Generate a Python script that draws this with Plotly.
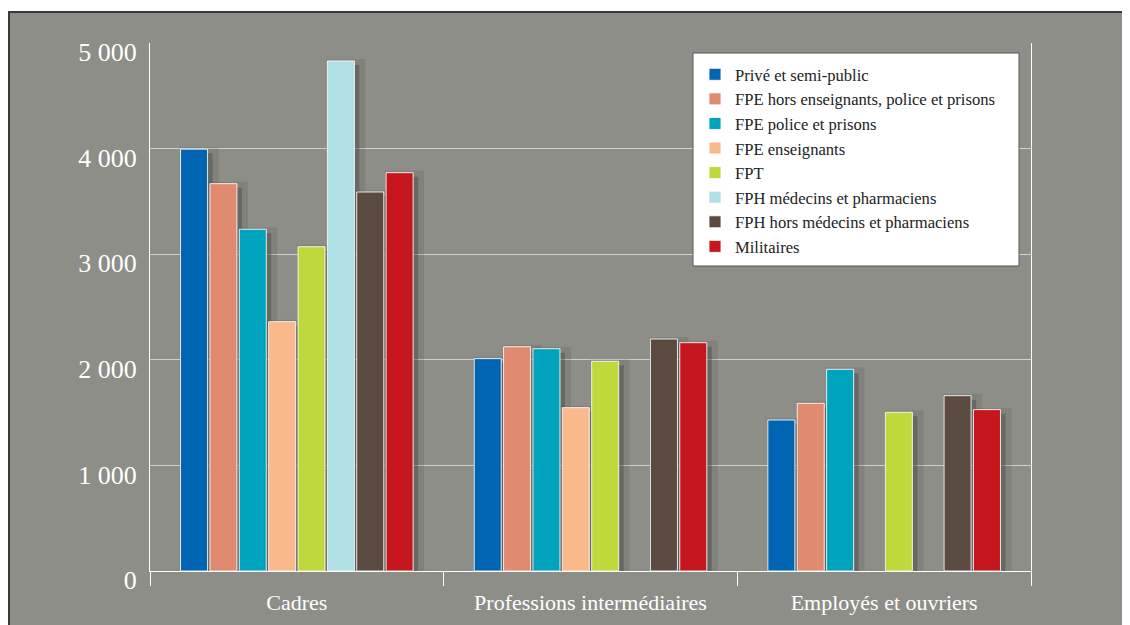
import plotly.graph_objects as go

categories = ["Cadres", "Professions intermédiaires", "Employés et ouvriers"]
series_names = [
    "Privé et semi-public",
    "FPE hors enseignants, police et prisons",
    "FPE police et prisons",
    "FPE enseignants",
    "FPT",
    "FPH médecins et pharmaciens",
    "FPH hors médecins et pharmaciens",
    "Militaires",
]
prive = [3995, 2011, 1430]
fpe_hors = [3668, 2124, 1588]
fpe_police = [3236, 2105, 1910]
fpe_ens = [2361, 1547, None]
fpt = [3071, 1986, 1503]
fph_med = [4830, None, None]
fph_hors = [3589, 2197, 1660]
militaires = [3772, 2162, 1528]
colors = ["#0066b3", "#e08a70", "#00a3bd", "#f9b98a", "#bfd83b", "#b0dfe5", "#5a4a40", "#c4161c"]
tick_vals = [0, 1000, 2000, 3000, 4000, 5000]
tick_text = ["0", "1 000", "2 000", "3 000", "4 000", "5 000"]

values = [prive, fpe_hors, fpe_police, fpe_ens, fpt, fph_med, fph_hors, militaires]

W, H = 1130, 625
OFF = 8  # page body margin
L, T = 150 - OFF, 43 - OFF
R = W - (1031 - OFF)
B = H - (571 - OFF)
pw, ph = W - L - R, H - T - B
YMAX = 5000
cat_px = pw / len(categories)

def px_x(p):
    return (p - OFF - L) / pw

def px_y(p):
    return (H - B - (p - OFF)) / ph

fig = go.Figure()
# soft drop shadows (base axes, shifted right/down, drawn beneath the bars)
for name, vals in zip(series_names, values):
    fig.add_trace(go.Bar(
        name=name, x=categories, y=vals, showlegend=False, hoverinfo="skip",
        xaxis="x", yaxis="y", cliponaxis=False,
        marker=dict(color="rgba(60,60,55,0.38)", line=dict(color="rgba(60,60,55,0.14)", width=12)),
    ))
# real bars (overlay axes)
for name, vals, col in zip(series_names, values, colors):
    fig.add_trace(go.Bar(
        name=name, x=categories, y=vals, xaxis="x2", yaxis="y2",
        marker=dict(color=col, line=dict(color="rgba(255,255,255,0.85)", width=1)),
    ))

dx_px, dy_px = 5, 4
dx = dx_px / cat_px
dy = dy_px / ph * YMAX

font_family = "Liberation Serif"
fig.update_layout(
    width=W, height=H,
    margin=dict(l=L, r=R, t=T, b=B, pad=0),
    paper_bgcolor="white",
    plot_bgcolor="rgba(0,0,0,0)",
    barmode="group", bargap=0.2, bargroupgap=0.08,
    font=dict(family=font_family, color="white"),
    showlegend=True,
    legend=dict(
        x=px_x(695), y=px_y(57), xanchor="left", yanchor="top",
        bgcolor="rgba(0,0,0,0)", borderwidth=0,
        font=dict(family=font_family, size=16.6, color="#222222"),
        tracegroupgap=0,
    ),
    shapes=[
        dict(type="rect", xref="paper", yref="paper",
             x0=px_x(9), x1=px_x(1160), y0=px_y(660), y1=px_y(12),
             fillcolor="#8e8e89", line=dict(color="#3a3a3a", width=2), layer="below"),
        dict(type="rect", xref="paper", yref="paper",
             x0=px_x(693), x1=px_x(1019), y0=px_y(266), y1=px_y(53),
             fillcolor="white", line=dict(color="#555555", width=1), layer="above"),
    ],
    xaxis=dict(
        range=[-0.5 - dx, len(categories) - 0.5 - dx],
        visible=False, showgrid=False,
    ),
    yaxis=dict(
        range=[dy, YMAX + dy], visible=False, showgrid=False, zeroline=False,
    ),
    xaxis2=dict(
        overlaying="x", anchor="y2", range=[-0.5, len(categories) - 0.5],
        showline=True, linecolor="white", linewidth=1,
        tickson="boundaries", ticks="outside", ticklen=14, tickcolor="white", tickwidth=1,
        tickfont=dict(family=font_family, size=22, color="white"),
        showgrid=False, ticklabelstandoff=12,
    ),
    yaxis2=dict(
        overlaying="y", anchor="x2", side="left",
        range=[0, YMAX], tickvals=tick_vals, ticktext=tick_text,
        showline=True, linecolor="white", linewidth=1, mirror=True,
        showgrid=True, gridcolor="#cfcfcb", gridwidth=1,
        zeroline=False, ticks="", ticklabelstandoff=7, ticklabelshift=9,
        tickfont=dict(family=font_family, size=26, color="white"),
    ),
)
fig.write_html("out.html")
